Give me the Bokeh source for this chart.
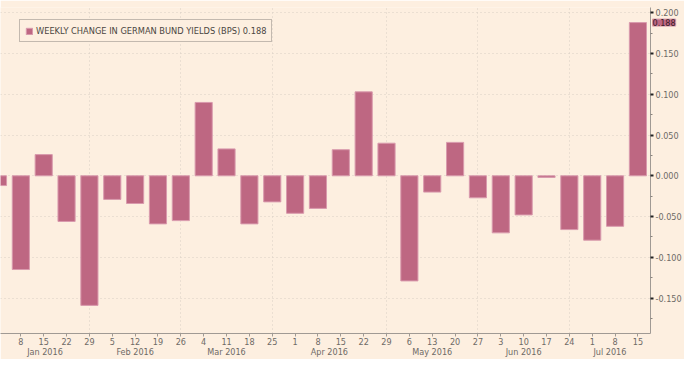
import pandas as pd
from bokeh.plotting import figure
from bokeh.models import (ColumnDataSource, FixedTicker, LinearAxis, Range1d,
                          NumeralTickFormatter, Legend, LegendItem, Label)
from bokeh.embed import file_html
from bokeh.resources import INLINE

dates = ["2016-01-01", "2016-01-08", "2016-01-15", "2016-01-22", "2016-01-29",
         "2016-02-05", "2016-02-12", "2016-02-19", "2016-02-26",
         "2016-03-04", "2016-03-11", "2016-03-18", "2016-03-25",
         "2016-04-01", "2016-04-08", "2016-04-15", "2016-04-22", "2016-04-29",
         "2016-05-06", "2016-05-13", "2016-05-20", "2016-05-27",
         "2016-06-03", "2016-06-10", "2016-06-17", "2016-06-24",
         "2016-07-01", "2016-07-08", "2016-07-15"]
values = [-0.012, -0.115, 0.026, -0.056, -0.159,
          -0.029, -0.034, -0.059, -0.055,
          0.090, 0.033, -0.059, -0.032,
          -0.046, -0.040, 0.032, 0.103, 0.040,
          -0.129, -0.020, 0.041, -0.027,
          -0.070, -0.048, -0.002, -0.066,
          -0.079, -0.062, 0.188]
series_name = "WEEKLY CHANGE IN GERMAN BUND YIELDS (BPS)"
y_ticks = [-0.15, -0.10, -0.05, 0.0, 0.05, 0.10, 0.15, 0.20]
y_minor = [-0.175, -0.125, -0.075, -0.025, 0.025, 0.075, 0.125, 0.175]

BG = "#fdefe0"
BAR = "#be6782"
BAR_EDGE = "#d99aad"
TXT = "#6e6a66"
GRID = "#d8cfc4"
FONT = "DejaVu Sans Condensed"

dt = pd.to_datetime(dates)
idx = list(range(len(dates)))
source = ColumnDataSource(dict(x=idx, top=values, date=dates))

x_start, x_end = 0.11, 28.55
y_start, y_end = -0.1935, 0.2065

p = figure(width=684, height=359, output_backend="svg", toolbar_location=None,
           x_range=Range1d(x_start, x_end), y_range=Range1d(y_start, y_end),
           y_axis_location="right", x_axis_location="below",
           background_fill_color=BG, border_fill_color=BG,
           min_border_left=0, min_border_top=0, min_border_right=0,
           min_border_bottom=0)
p.outline_line_color = None

r = p.vbar(x="x", top="top", bottom=0, width=0.75, source=source,
           fill_color=BAR, line_color=BAR_EDGE, line_width=1)

# y axis (right)
ya = p.yaxis[0]
ya.ticker = FixedTicker(ticks=y_ticks, minor_ticks=y_minor)
ya.formatter = NumeralTickFormatter(format="0.000")
ya.axis_line_color = "#a09a94"
ya.major_tick_line_color = "#222222"
ya.major_tick_line_width = 2
ya.major_tick_in = 0
ya.major_tick_out = 3
ya.minor_tick_line_color = "#8a847e"
ya.minor_tick_in = 0
ya.minor_tick_out = 2
ya.major_label_text_font = FONT
ya.major_label_text_font_size = "9px"
ya.major_label_text_color = TXT
ya.major_label_standoff = 2

# day ticks
seps = [i for i in idx[:-1] if dt[i].month != dt[i + 1].month]
xa = p.xaxis[0]
xa.ticker = FixedTicker(ticks=idx)
xa.major_label_overrides = {i: str(d.day) for i, d in zip(idx, dt)}
xa.axis_line_color = "#a09a94"
xa.major_tick_line_color = "#a09a94"
xa.major_tick_in = 0
xa.major_tick_out = 3
xa.minor_tick_line_color = None
xa.major_label_text_font = FONT
xa.major_label_text_font_size = "9px"
xa.major_label_text_color = TXT
xa.major_label_standoff = 1

# month labels
bounds = [x_start] + seps + [x_end]
starts = [0] + [s + 1 for s in seps]
centers = [round((bounds[k] + bounds[k + 1]) / 2, 3) for k in range(len(bounds) - 1)]
month_names = [dt[s].strftime("%b %Y") for s in starts]
ma = LinearAxis(ticker=FixedTicker(ticks=centers),
                major_label_overrides=dict(zip(centers, month_names)))
ma.axis_line_color = None
ma.major_tick_line_color = None
ma.major_tick_out = 0
ma.minor_tick_line_color = None
ma.minor_tick_out = 0
ma.major_label_text_font = FONT
ma.major_label_text_font_size = "9px"
ma.major_label_text_color = TXT
ma.major_label_standoff = -1
p.add_layout(ma, "below")

# grids
p.ygrid.ticker = FixedTicker(ticks=y_ticks)
p.ygrid.grid_line_color = GRID
p.ygrid.grid_line_dash = "1 3"
p.xgrid.ticker = FixedTicker(ticks=seps)
p.xgrid.grid_line_color = GRID
p.xgrid.grid_line_dash = "1 3"

# legend
last = values[-1]
legend = Legend(items=[LegendItem(label=f"{series_name} {last:.3f}", renderers=[r])],
                location=(19, 291), margin=0, padding=5, spacing=0,
                glyph_width=8, glyph_height=8, label_standoff=3,
                label_text_font=FONT, label_text_font_size="9.2px",
                label_text_color="#4a4642", label_height=10,
                background_fill_color=BG, background_fill_alpha=1,
                border_line_color="#8a847e", border_line_width=1)
p.add_layout(legend, "center")

# last-value tag on the axis
tag = Label(x=x_end, y=last, x_units="data", y_units="data",
            text=f"{last:.3f}", x_offset=2, text_baseline="middle",
            text_align="left", text_font=FONT, text_font_size="9px",
            text_color="#3a2028", background_fill_color=BAR,
            border_line_color=BAR_EDGE)
p.add_layout(tag, "above")

open("out.html", "w").write(file_html(p, INLINE))
